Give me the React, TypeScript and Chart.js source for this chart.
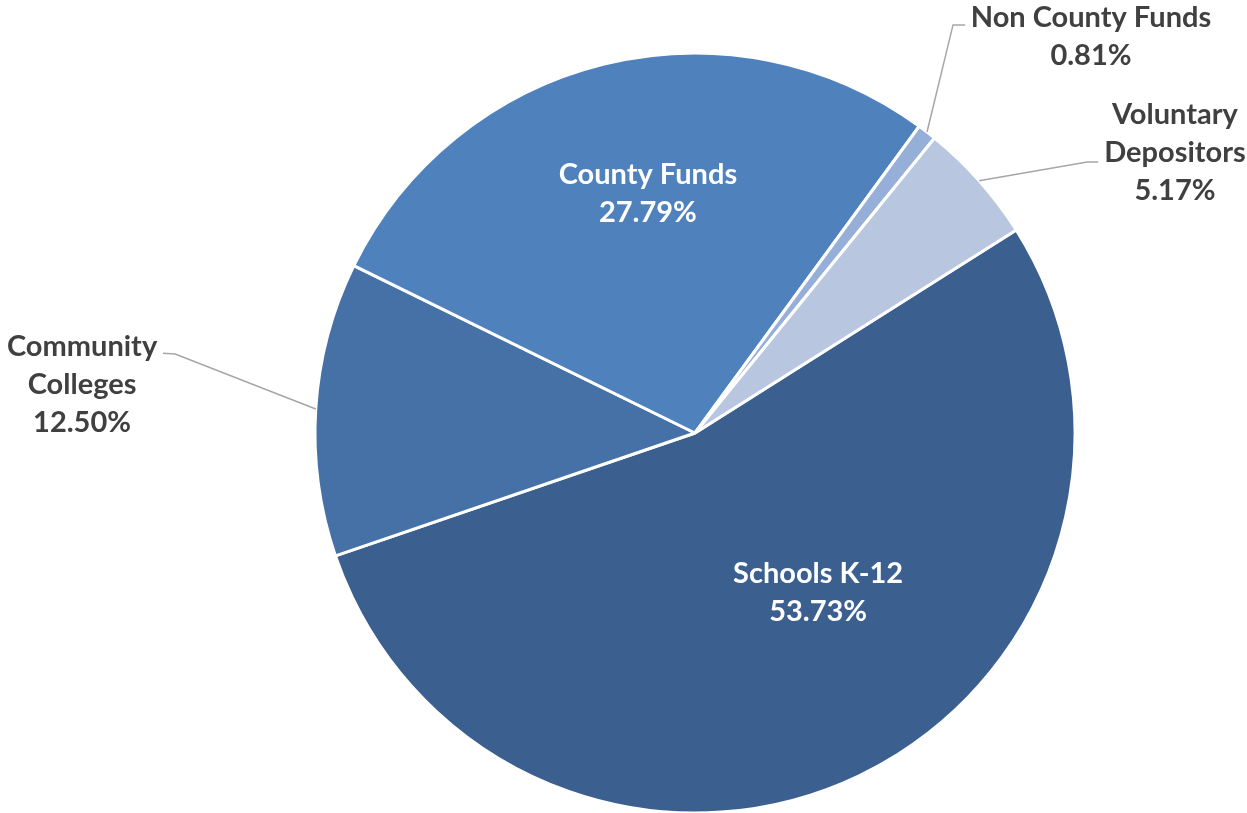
import React, { useEffect, useRef } from "react";
import { Chart, registerables } from "chart.js";

Chart.register(...registerables);

const categories = ["Schools K-12", "Community Colleges", "County Funds", "Non County Funds", "Voluntary Depositors"];
const shares = [53.73, 12.5, 27.79, 0.81, 5.17];
const labelLines = [
  ["Schools K-12"],
  ["Community", "Colleges"],
  ["County Funds"],
  ["Non County Funds"],
  ["Voluntary", "Depositors"],
];
const sliceColors = ["#3B5F8E", "#4571A7", "#4F81BD", "#95AFD8", "#B9C6E0"];

// label placement in units of radius relative to pie centre
const labelPlacement = [
  { x: 0.324, y: 0.42, inside: true },
  { x: -1.613, y: -0.126, inside: false, elbow: [-1.368, -0.208], end: [-1.4, -0.21] },
  { x: -0.124, y: -0.63, inside: true },
  { x: 1.042, y: -1.043, inside: false, elbow: [0.679, -1.074], end: [0.711, -1.074] },
  { x: 1.263, y: -0.739, inside: false, elbow: [1.032, -0.713], end: [1.061, -0.713] },
];

const FONT = "bold 29px Lato, 'Noto Sans', sans-serif";
const LINE_H = 38;

const labelPlugin = {
  id: "pieLabels",
  afterDatasetsDraw(chart: any) {
    const ctx = chart.ctx;
    const meta = chart.getDatasetMeta(0);
    meta.data.forEach((arc: any, i: number) => {
      const { x: cx, y: cy, outerRadius: r, startAngle, endAngle } = arc.getProps(
        ["x", "y", "outerRadius", "startAngle", "endAngle"],
        true
      );
      const p = labelPlacement[i];
      ctx.save();
      if (!p.inside && p.elbow && p.end) {
        const mid = (startAngle + endAngle) / 2;
        const sx = cx + Math.cos(mid) * r;
        const sy = cy + Math.sin(mid) * r;
        ctx.strokeStyle = "#A6A6A6";
        ctx.lineWidth = 1.5;
        ctx.beginPath();
        ctx.moveTo(sx, sy);
        ctx.lineTo(cx + p.elbow[0] * r, cy + p.elbow[1] * r);
        ctx.lineTo(cx + p.end[0] * r, cy + p.end[1] * r);
        ctx.stroke();
      }
      const lines = [...labelLines[i], shares[i].toFixed(2) + "%"];
      ctx.font = FONT;
      ctx.fillStyle = p.inside ? "#FFFFFF" : "#404040";
      ctx.textAlign = "center";
      ctx.textBaseline = "middle";
      const bx = cx + p.x * r;
      const by = cy + p.y * r;
      const top = by - ((lines.length - 1) * LINE_H) / 2;
      lines.forEach((t, k) => ctx.fillText(t, bx, top + k * LINE_H));
      ctx.restore();
    });
  },
};

export default function App() {
  const ref = useRef<HTMLCanvasElement>(null);
  useEffect(() => {
    document.body.style.margin = "0";
    const chart = new Chart(ref.current!, {
      type: "pie",
      data: {
        labels: categories,
        datasets: [
          {
            data: shares,
            backgroundColor: sliceColors,
            borderColor: "#FFFFFF",
            borderWidth: 3,
          },
        ],
      },
      options: {
        animation: false,
        responsive: true,
        maintainAspectRatio: false,
        rotation: 57.7,
        radius: 380,
        layout: { padding: { top: 53, bottom: 0, left: 143, right: 0 } },
        plugins: {
          legend: { display: false },
          tooltip: { enabled: false },
        },
      },
      plugins: [labelPlugin],
    });
    return () => chart.destroy();
  }, []);
  return (
    <div style={{ position: "fixed", left: 0, top: 0, width: 1247, height: 813, background: "#fff" }}>
      <canvas ref={ref} />
    </div>
  );
}
